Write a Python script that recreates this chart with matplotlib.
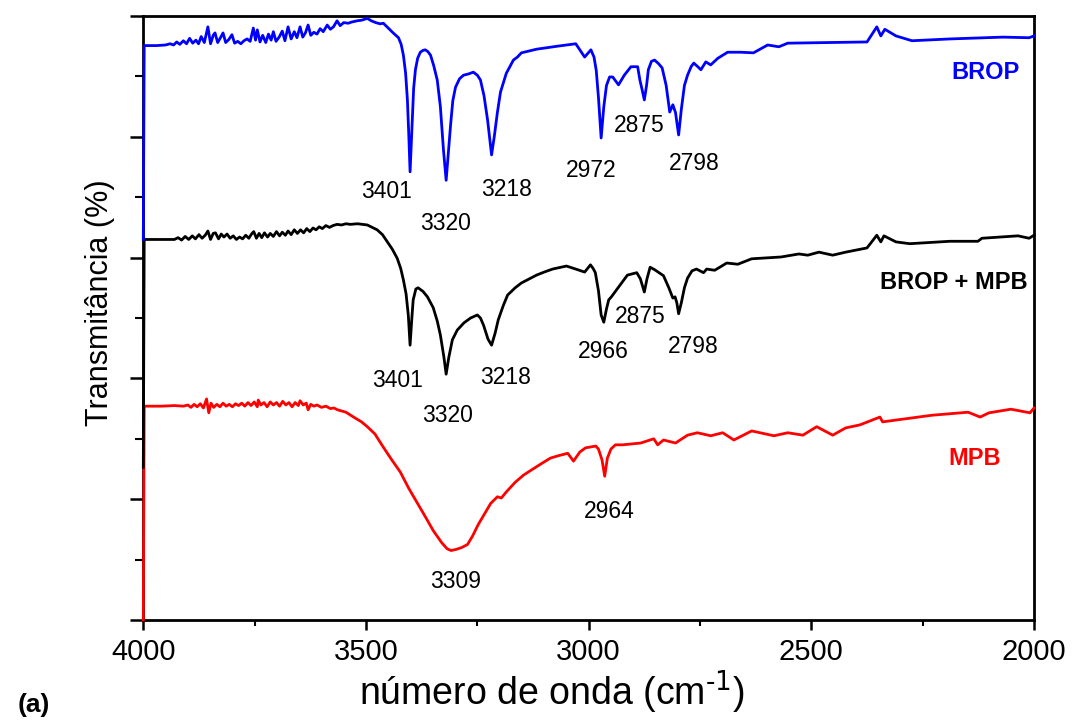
import matplotlib
matplotlib.use("Agg")
import matplotlib.pyplot as plt
from matplotlib.ticker import MultipleLocator, NullFormatter

plt.rcParams["font.family"] = ["Liberation Sans", "DejaVu Sans"]

# FTIR spectra, wavenumber (cm-1) vs transmittance (offset, %)
brop_wn = [4000, 3998, 3970, 3950, 3940, 3932, 3925, 3918, 3910, 3903, 3896, 3889, 3882, 3876,
           3870, 3863, 3855, 3849, 3843, 3839, 3833, 3826, 3821, 3815, 3808, 3801, 3795, 3788,
           3781, 3774, 3767, 3760, 3753, 3748, 3744, 3738, 3732, 3725, 3719, 3713, 3708, 3702,
           3695, 3688, 3682, 3675, 3668, 3661, 3655, 3648, 3642, 3636, 3630, 3624, 3617, 3610,
           3603, 3596, 3587, 3580, 3573, 3565, 3558, 3550, 3540, 3532, 3520, 3510, 3497, 3488,
           3478, 3468, 3461, 3450, 3439, 3433, 3427, 3421, 3416, 3411, 3407, 3404, 3401, 3397,
           3393, 3389, 3384, 3378, 3372, 3367, 3361, 3355, 3348, 3340, 3333, 3326, 3320, 3315,
           3310, 3305, 3299, 3290, 3281, 3270, 3259, 3250, 3243, 3235, 3227, 3222, 3218, 3212,
           3205, 3198, 3185, 3169, 3160, 3151, 3140, 3117, 3070, 3029, 3009, 2995, 2988, 2983,
           2978, 2972, 2966, 2960, 2953, 2946, 2933, 2920, 2905, 2890, 2885, 2880, 2875, 2870,
           2866, 2859, 2852, 2843, 2835, 2826, 2818, 2811, 2805, 2798, 2792, 2785, 2778, 2770,
           2764, 2755, 2748, 2737, 2726, 2710, 2688, 2659, 2630, 2598, 2573, 2553, 2375, 2353,
           2344, 2335, 2310, 2274, 2189, 2070, 2011, 2000]
brop_t = [63.0, 95.1, 95.1, 95.2, 95.4, 95.2, 95.7, 95.3, 95.9, 95.4, 96.3, 95.5, 96.0, 95.4,
          96.6, 95.6, 98.2, 95.4, 96.8, 97.2, 95.6, 96.5, 97.2, 95.6, 96.1, 96.9, 95.5, 95.8,
          95.4, 95.9, 96.2, 95.8, 98.0, 96.0, 97.7, 95.7, 96.8, 95.6, 97.0, 96.0, 97.4, 95.8,
          96.5, 97.5, 95.9, 98.2, 96.2, 97.4, 96.4, 98.2, 96.5, 97.2, 98.5, 96.8, 97.3, 97.0,
          97.9, 97.4, 98.5, 97.8, 98.2, 99.2, 98.4, 98.9, 98.8, 99.0, 99.2, 99.3, 99.6, 99.2,
          98.9, 98.7, 98.8, 98.0, 97.2, 96.8, 96.4, 95.3, 93.5, 90.5, 86.1, 80.5, 74.2, 81.0,
          88.0, 91.1, 93.0, 94.0, 94.3, 94.4, 94.1, 93.5, 91.8, 89.4, 85.0, 77.8, 72.8, 77.5,
          82.0, 86.0, 88.2, 89.6, 90.2, 90.4, 90.7, 90.2, 89.4, 86.8, 82.8, 79.5, 77.0, 80.0,
          84.0, 87.4, 90.5, 92.7, 93.2, 93.9, 94.1, 94.5, 95.0, 95.4, 93.2, 94.4, 93.2, 91.0,
          86.5, 79.8, 85.0, 88.5, 89.9, 89.9, 88.6, 90.2, 91.6, 91.6, 89.4, 87.8, 86.1, 88.5,
          91.1, 92.5, 92.7, 92.1, 91.4, 88.5, 84.1, 85.3, 84.0, 80.3, 84.5, 88.5, 90.2, 91.6,
          92.2, 91.6, 91.1, 92.4, 91.9, 93.0, 94.0, 94.0, 93.9, 95.2, 94.9, 95.5, 95.7, 98.2,
          96.7, 97.8, 96.7, 95.9, 96.2, 96.5, 96.4, 96.7]

mix_wn = [4000, 3998, 3935, 3930, 3922, 3914, 3906, 3898, 3890, 3883, 3875, 3868, 3861, 3855,
          3849, 3843, 3838, 3831, 3825, 3819, 3812, 3805, 3798, 3791, 3784, 3777, 3770, 3763,
          3757, 3752, 3746, 3740, 3734, 3728, 3721, 3715, 3708, 3701, 3694, 3688, 3681, 3675,
          3668, 3661, 3654, 3647, 3640, 3633, 3626, 3619, 3612, 3605, 3598, 3590, 3582, 3574,
          3565, 3555, 3545, 3535, 3519, 3497, 3475, 3463, 3452, 3441, 3430, 3422, 3416, 3410,
          3405, 3401, 3397, 3394, 3388, 3383, 3372, 3362, 3349, 3340, 3333, 3325, 3320, 3314,
          3306, 3295, 3280, 3265, 3250, 3243, 3236, 3226, 3218, 3210, 3203, 3192, 3182, 3165,
          3151, 3130, 3117, 3100, 3081, 3050, 3029, 3009, 2996, 2990, 2985, 2978, 2972, 2966,
          2960, 2955, 2949, 2933, 2913, 2892, 2884, 2880, 2875, 2869, 2862, 2852, 2842, 2832,
          2820, 2811, 2806, 2802, 2798, 2792, 2785, 2778, 2768, 2758, 2742, 2735, 2717, 2690,
          2665, 2634, 2568, 2528, 2508, 2483, 2452, 2423, 2375, 2353, 2344, 2337, 2310, 2279,
          2189, 2126, 2117, 2036, 2011, 2000]
mix_t = [25.3, 63.0, 63.0, 63.0, 63.3, 62.9, 63.5, 63.0, 63.6, 63.1, 63.8, 63.2, 63.7, 64.4,
         63.0, 64.0, 64.1, 63.1, 63.9, 63.4, 63.9, 63.2, 63.6, 63.0, 63.4, 63.1, 63.7, 63.2,
         63.9, 64.3, 63.2, 64.0, 63.3, 64.1, 63.4, 64.0, 63.5, 64.3, 63.6, 64.2, 63.7, 64.4,
         63.8, 64.6, 64.0, 64.6, 64.1, 64.8, 64.3, 64.9, 64.6, 65.1, 64.8, 65.3, 65.0, 65.3,
         65.5, 65.4, 65.6, 65.5, 65.6, 65.4, 64.6, 63.8, 62.6, 61.4, 59.9, 58.2, 56.3, 54.0,
         50.5, 45.5, 50.0, 53.0, 54.8, 55.0, 54.4, 53.5, 51.7, 49.5, 47.2, 43.5, 40.7, 43.5,
         46.4, 48.0, 49.2, 50.0, 50.5, 50.0, 48.8, 46.5, 45.5, 47.5, 49.7, 52.0, 53.8, 55.0,
         55.8, 56.6, 57.1, 57.6, 58.1, 58.6, 58.1, 57.6, 58.8, 58.2, 57.5, 54.5, 50.5, 49.3,
         51.5, 53.0, 53.5, 55.1, 57.1, 57.5, 56.5, 55.5, 54.3, 56.5, 58.4, 58.0, 57.5, 57.0,
         55.0, 53.3, 53.5, 52.5, 50.7, 52.5, 55.0, 56.6, 57.8, 58.1, 57.5, 58.1, 57.9, 59.1,
         58.9, 59.8, 60.1, 60.6, 60.4, 60.9, 60.4, 60.9, 61.6, 63.7, 62.6, 63.6, 62.6, 62.3,
         62.7, 62.7, 63.2, 63.6, 63.2, 63.7]

mpb_wn = [4000, 3998, 3960, 3930, 3910, 3900, 3893, 3886, 3879, 3872, 3865, 3858, 3853, 3848,
          3842, 3835, 3828, 3821, 3814, 3807, 3800, 3793, 3786, 3779, 3772, 3765, 3758, 3751,
          3744, 3742, 3736, 3729, 3722, 3715, 3708, 3701, 3694, 3687, 3680, 3673, 3666, 3659,
          3652, 3648, 3641, 3634, 3630, 3624, 3617, 3610, 3600, 3590, 3580, 3572, 3564, 3545,
          3528, 3510, 3497, 3480, 3461, 3442, 3423, 3404, 3385, 3366, 3349, 3330, 3318, 3309,
          3297, 3285, 3272, 3260, 3248, 3236, 3220, 3205, 3196, 3185, 3165, 3146, 3125, 3108,
          3086, 3068, 3047, 3034, 3020, 3007, 2984, 2978, 2970, 2964, 2958, 2950, 2940, 2924,
          2883, 2854, 2845, 2832, 2805, 2778, 2756, 2726, 2699, 2674, 2634, 2584, 2553, 2519,
          2488, 2452, 2423, 2391, 2346, 2340, 2310, 2229, 2148, 2121, 2101, 2052, 2009, 2000]
mpb_t = [0, 35.4, 35.4, 35.5, 35.4, 35.6, 35.2, 35.7, 35.3, 35.8, 35.1, 36.6, 34.3, 35.9,
         35.2, 35.7, 35.3, 35.9, 35.4, 35.7, 35.3, 35.8, 35.5, 35.9, 35.4, 36.0, 35.5, 36.1,
         35.3, 36.4, 35.6, 36.0, 35.3, 36.1, 35.6, 36.0, 35.4, 36.2, 35.6, 36.0, 35.3, 36.0,
         35.5, 36.3, 35.6, 35.9, 34.8, 35.7, 35.4, 35.6, 35.2, 35.4, 35.0, 35.1, 34.8, 34.4,
         33.6, 32.8, 32.0, 30.8, 28.6, 26.5, 24.5, 21.8, 19.4, 17.0, 14.8, 12.8, 11.8, 11.5,
         11.7, 12.0, 12.5, 14.0, 15.8, 17.3, 19.3, 20.4, 20.2, 21.2, 22.8, 24.0, 25.0, 25.8,
         26.8, 27.2, 27.6, 26.3, 27.8, 28.5, 28.8, 28.3, 26.5, 23.8, 26.8, 28.3, 29.0, 29.0,
         29.3, 30.0, 29.0, 29.8, 29.3, 30.6, 31.0, 30.5, 31.0, 29.8, 31.3, 30.5, 31.0, 30.6,
         32.0, 30.6, 31.8, 32.3, 33.6, 32.8, 33.1, 33.9, 34.4, 33.6, 34.3, 34.9, 34.3, 35.1]

# peak labels: text, x, y
brop_peaks = ["3401", "3320", "3218", "2972", "2875", "2798"]
brop_peak_x = [3453, 3322, 3185, 2994, 2886, 2764]
brop_peak_y = [70.9, 65.6, 71.2, 74.5, 81.8, 75.5]
mix_peaks = ["3401", "3320", "3218", "2966", "2875", "2798"]
mix_peak_x = [3429, 3317, 3187, 2968, 2885, 2766]
mix_peak_y = [39.7, 33.9, 40.1, 44.4, 50.2, 45.2]
mpb_peaks = ["3309", "2964"]
mpb_peak_x = [3298, 2953]
mpb_peak_y = [6.3, 18.0]

names = ["BROP", "BROP + MPB", "MPB"]
name_x = [2108, 2180, 2133]
name_y = [90.6, 55.9, 26.7]
colors = ["#0000ff", "#000000", "#ff0000"]

fig = plt.figure(figsize=(10.84, 7.2), dpi=100)
ax = fig.add_axes([0.1322, 0.1389, 0.8217, 0.8389])

ax.plot(mpb_wn, mpb_t, color=colors[2], lw=2.0, zorder=3, clip_on=False)
ax.plot(mix_wn, mix_t, color=colors[1], lw=2.0, zorder=4, clip_on=False)
ax.plot(brop_wn, brop_t, color=colors[0], lw=2.0, zorder=5, clip_on=False)

for s, x, y in zip(brop_peaks, brop_peak_x, brop_peak_y):
    ax.text(x, y, s, ha="center", va="center", fontsize=16.5)
for s, x, y in zip(mix_peaks, mix_peak_x, mix_peak_y):
    ax.text(x, y, s, ha="center", va="center", fontsize=16.5)
for s, x, y in zip(mpb_peaks, mpb_peak_x, mpb_peak_y):
    ax.text(x, y, s, ha="center", va="center", fontsize=16.5)

for s, x, y, c in zip(names, name_x, name_y, colors):
    ax.text(x, y, s, ha="center", va="center", fontsize=17, fontweight="bold", color=c)

ax.set_xlim(4000, 2000)
ax.set_ylim(0, 100)
ax.xaxis.set_major_locator(MultipleLocator(500))
ax.xaxis.set_minor_locator(MultipleLocator(250))
ax.yaxis.set_major_locator(MultipleLocator(20))
ax.yaxis.set_minor_locator(MultipleLocator(10))
ax.yaxis.set_major_formatter(NullFormatter())

for sp in ax.spines.values():
    sp.set_linewidth(2)
ax.tick_params(axis="x", which="major", length=7, width=1.8, labelsize=21, pad=6)
ax.tick_params(axis="x", which="minor", length=4, width=1.5)
ax.tick_params(axis="y", which="major", length=9.5, width=1.8)
ax.tick_params(axis="y", which="minor", length=6, width=1.5)

fig.text(0.5092, 0.039, "número de onda (cm$^{\\text{-1}}$)", ha="center", va="center", fontsize=27)
fig.text(0.0923, 0.579, "Transmitância (%)", ha="center", va="center", fontsize=22, rotation=90)
fig.text(0.031, 0.021, "(a)", ha="center", va="center", fontsize=19, fontweight="bold")

fig.savefig("out.png", dpi=100)
